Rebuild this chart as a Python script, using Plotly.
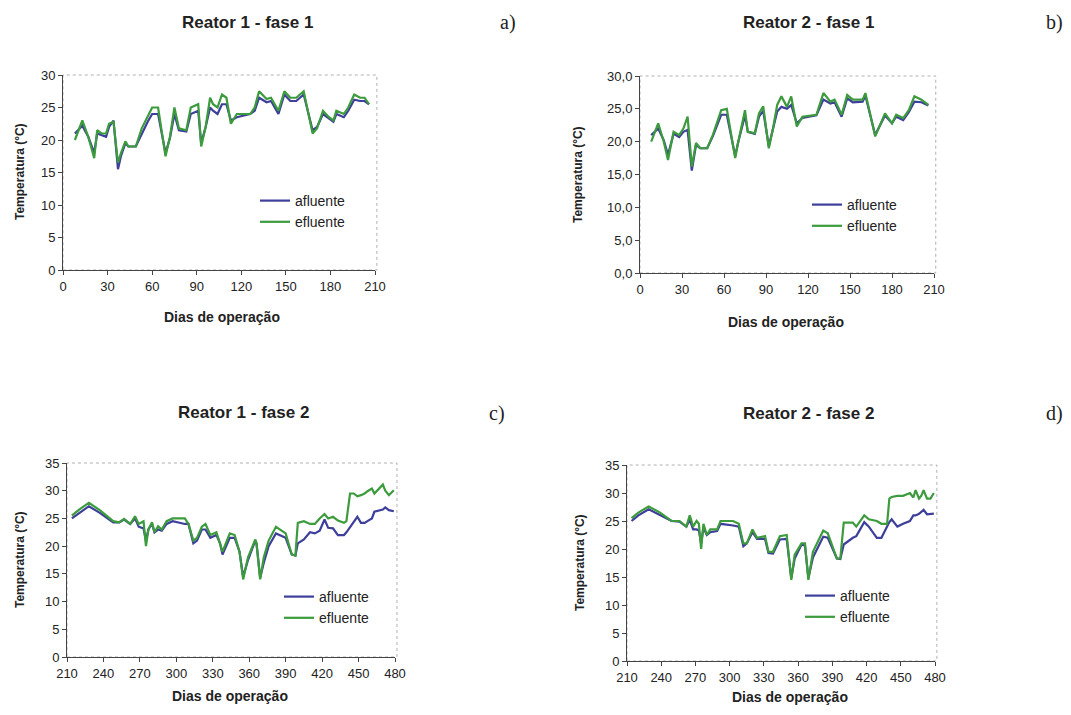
import plotly.graph_objects as go

# ---------------- data ----------------
# Reator 1 - fase 1
days_r1f1 = [8, 13, 17, 21, 23, 26, 29, 31, 34, 37, 39, 42, 44, 49, 53, 57, 60, 64, 69, 72, 75, 78, 83, 86,
             91, 93, 96, 99, 101, 104, 107, 110, 113, 117, 126, 129, 132, 137, 140, 145, 149, 153, 157, 162,
             168, 171, 175, 179, 182, 184, 189, 192, 196, 200, 203, 206]
afl_r1f1 = [21.0, 22.2, 20.5, 18.0, 21.0, 20.8, 20.5, 22.0, 23.0, 15.5, 17.5, 19.5, 19.0, 19.0, 21.0, 22.8,
            24.0, 24.0, 18.0, 20.3, 24.0, 21.5, 21.3, 24.0, 24.5, 19.5, 22.0, 25.0, 24.5, 24.0, 25.5, 25.5,
            23.0, 23.5, 24.0, 24.5, 26.5, 25.8, 26.0, 24.0, 27.0, 26.0, 26.0, 27.0, 21.5, 22.0, 24.0, 23.3,
            22.8, 24.0, 23.5, 24.5, 26.2, 26.0, 26.0, 25.5]
efl_r1f1 = [20.0, 23.0, 20.5, 17.2, 21.5, 21.0, 21.0, 22.5, 22.8, 16.5, 18.0, 19.8, 19.0, 19.0, 21.8, 23.5,
            25.0, 25.0, 17.5, 20.5, 25.0, 21.8, 21.5, 25.0, 25.5, 19.0, 22.0, 26.5, 25.5, 25.0, 27.0, 26.5,
            22.5, 24.0, 24.0, 25.0, 27.5, 26.3, 26.5, 24.5, 27.5, 26.5, 26.5, 27.5, 21.0, 21.8, 24.5, 23.5,
            23.0, 24.5, 24.0, 25.0, 27.0, 26.5, 26.5, 25.5]

# Reator 2 - fase 1
days_r2f1 = [8, 13, 17, 20, 24, 28, 31, 34, 37, 40, 43, 48, 52, 58, 62, 68, 70, 75, 77, 82, 85, 88, 92, 95,
             98, 101, 105, 108, 112, 116, 126, 131, 136, 139, 144, 148, 152, 159, 161, 168, 175, 180, 183,
             188, 192, 196, 201, 206]
afl_r2f1 = [21.0, 22.0, 20.2, 18.0, 21.2, 20.7, 21.5, 21.8, 15.6, 19.5, 19.0, 19.0, 20.8, 24.1, 24.1, 17.8,
            19.8, 24.0, 21.5, 21.2, 23.8, 24.7, 19.3, 22.0, 24.6, 25.3, 25.0, 25.6, 22.8, 23.6, 24.0, 26.4,
            25.8, 26.0, 23.8, 26.6, 26.0, 26.1, 27.0, 21.0, 24.0, 22.8, 23.8, 23.3, 24.5, 26.1, 26.0, 25.5]
efl_r2f1 = [20.0, 22.8, 20.0, 17.2, 21.5, 21.0, 22.0, 23.8, 16.2, 19.8, 19.0, 19.0, 21.0, 24.8, 25.0, 17.5,
            19.8, 24.8, 21.5, 21.3, 24.3, 25.4, 19.0, 22.0, 25.6, 26.9, 25.3, 26.9, 22.3, 23.8, 24.1, 27.4,
            26.1, 26.4, 24.1, 27.1, 26.4, 26.4, 27.4, 20.8, 24.3, 22.8, 24.1, 23.6, 24.8, 26.9, 26.4, 25.6]

# Reator 1 - fase 2
days_r1f2 = [214, 220, 228, 237, 248, 253, 257, 262, 266, 269, 273, 275, 277, 280, 282, 285, 288, 292, 297,
             307, 310, 314, 317, 321, 324, 328, 333, 336, 338, 344, 348, 352, 355, 359, 365, 366, 369, 372,
             376, 382, 390, 395, 398, 400, 405, 410, 414, 418, 422, 425, 429, 433, 438, 440, 443, 446, 449,
             452, 455, 458, 461, 463, 466, 470, 472, 475, 479]
afl_r1f2 = [25.0, 26.0, 27.2, 26.0, 24.3, 24.3, 24.8, 24.0, 25.0, 23.5, 23.2, 21.0, 23.0, 24.0, 22.5, 23.0,
            22.8, 24.0, 24.5, 24.0, 24.0, 20.5, 21.0, 23.0, 23.0, 21.5, 22.0, 20.5, 18.5, 21.5, 21.5, 19.0,
            14.5, 17.5, 21.0, 20.5, 14.3, 17.0, 20.0, 22.3, 21.5, 18.5, 18.3, 20.5, 21.2, 22.5, 22.3, 22.8,
            24.8, 23.3, 23.2, 22.0, 22.0, 22.5, 23.5, 24.5, 25.3, 24.2, 24.2, 24.6, 25.0, 26.2, 26.4, 26.6,
            27.0, 26.5, 26.3]
efl_r1f2 = [25.5, 26.6, 27.8, 26.5, 24.5, 24.3, 24.9, 24.0, 25.4, 24.0, 24.5, 20.0, 23.0, 24.3, 22.5, 23.6,
            23.0, 24.5, 25.0, 25.0, 24.0, 21.0, 21.5, 23.5, 24.0, 22.0, 22.5, 20.5, 19.0, 22.3, 22.0, 19.0,
            14.0, 18.0, 21.2, 20.5, 14.0, 18.0, 21.0, 23.5, 22.3, 18.5, 18.3, 24.2, 24.5, 24.0, 24.0, 25.0,
            25.8, 25.0, 25.3, 24.6, 24.2, 24.5, 29.5, 29.5, 29.0, 29.2, 29.5, 30.0, 30.4, 29.5, 30.2, 31.1,
            30.0, 29.2, 30.1]

# Reator 2 - fase 2
days_r2f2 = [214, 220, 229, 239, 249, 256, 262, 265, 268, 271, 273, 275, 277, 280, 283, 289, 292, 303, 308,
             312, 315, 320, 324, 331, 334, 338, 344, 350, 354, 357, 363, 366, 369, 373, 382, 386, 394, 397,
             400, 408, 411, 418, 422, 429, 433, 438, 440, 442, 447, 452, 458, 461, 463, 466, 468, 470, 473,
             476, 479]
afl_r2f2 = [25.0, 26.0, 27.1, 26.0, 25.0, 24.9, 24.0, 25.2, 23.5, 23.5, 23.3, 21.0, 23.8, 22.5, 23.0, 23.2,
            24.5, 24.2, 24.0, 20.5, 21.0, 23.0, 21.8, 21.8, 19.3, 19.2, 21.7, 21.8, 14.8, 18.3, 20.8, 20.6,
            14.8, 18.5, 22.2, 22.0, 18.3, 18.2, 20.8, 22.0, 22.3, 24.8, 24.0, 22.0, 22.0, 24.0, 24.8, 25.3,
            24.0, 24.5, 25.0, 26.0, 26.0, 26.3, 26.6, 27.0, 26.2, 26.3, 26.3]
efl_r2f2 = [25.5, 26.5, 27.6, 26.5, 25.0, 25.0, 24.0, 26.0, 24.0, 25.0, 24.5, 20.0, 24.5, 22.5, 23.5, 23.5,
            25.0, 25.0, 24.5, 21.0, 21.0, 23.5, 22.0, 22.3, 19.5, 19.5, 22.3, 22.5, 14.5, 19.0, 21.0, 21.0,
            14.5, 19.5, 23.3, 22.8, 18.3, 18.3, 24.7, 24.7, 24.0, 26.0, 25.3, 25.0, 24.5, 24.5, 29.0, 29.3,
            29.5, 29.5, 30.0, 29.2, 30.5, 29.0, 29.5, 30.5, 29.0, 29.0, 30.0]

titles = ["Reator 1 - fase 1", "Reator 2 - fase 1", "Reator 1 - fase 2", "Reator 2 - fase 2"]
letters = ["a)", "b)", "c)", "d)"]
series_names = ["afluente", "efluente"]
yticks_f1 = [0, 5, 10, 15, 20, 25, 30]
yticks_f2 = [0, 5, 10, 15, 20, 25, 30, 35]
xticks_f1 = [0, 30, 60, 90, 120, 150, 180, 210]
xticks_f2 = [210, 240, 270, 300, 330, 360, 390, 420, 450, 480]
ytext_a = ["0", "5", "10", "15", "20", "25", "30"]
ytext_b = ["0,0", "5,0", "10,0", "15,0", "20,0", "25,0", "30,0"]
ytext_cd = ["0", "5", "10", "15", "20", "25", "30", "35"]
xlabel = "Dias de operação"
ylabel = "Temperatura (°C)"

# ---------------- layout helpers ----------------
OFF = 8  # page body margin offset
W, H = 1071 - 2 * OFF, 715 - 2 * OFF  # figure fits the window without scrolling
BLUE = "#3d3f9a"
GREEN = "#3c9b3c"
FONT = "Liberation Sans"


def px(x):
    return (x - OFF) / W


def py(y):
    return 1 - (y - OFF) / H


panels = [
    dict(days=days_r1f1, afl=afl_r1f1, efl=efl_r1f1, xr=[0, 210], yr=[0, 30], xt=xticks_f1, yt=yticks_f1,
         ytt=ytext_a, box=(63, 375, 75, 270), title=(247, 22), letter=(508, 22), xlab=(222, 317),
         ylab=(20, 172), leg=(255, 185)),
    dict(days=days_r2f1, afl=afl_r2f1, efl=efl_r2f1, xr=[0, 210], yr=[0, 30], xt=xticks_f1, yt=yticks_f1,
         ytt=ytext_b, box=(640, 934, 76, 273), title=(808, 22), letter=(1054, 22), xlab=(786, 322),
         ylab=(578, 175), leg=(807, 189)),
    dict(days=days_r1f2, afl=afl_r1f2, efl=efl_r1f2, xr=[210, 480], yr=[0, 35], xt=xticks_f2, yt=yticks_f2,
         ytt=ytext_cd, box=(67, 395, 463, 657), title=(243, 412), letter=(497, 413), xlab=(230, 696),
         ylab=(20, 560), leg=(279, 581)),
    dict(days=days_r2f2, afl=afl_r2f2, efl=efl_r2f2, xr=[210, 480], yr=[0, 35], xt=xticks_f2, yt=yticks_f2,
         ytt=ytext_cd, box=(627, 935, 465, 661), title=(808, 413), letter=(1054, 413), xlab=(790, 697),
         ylab=(580, 563), leg=(800, 580)),
]

fig = go.Figure()
annotations = []
shapes = []
layout_extra = {}

for i, p in enumerate(panels):
    n = "" if i == 0 else str(i + 1)
    xa, ya = "x" + n, "y" + n
    leg = "legend" + n
    fig.add_trace(go.Scatter(x=p["days"], y=p["afl"], mode="lines", name=series_names[0],
                             line=dict(color=BLUE, width=2.2), xaxis=xa, yaxis=ya, legend=leg))
    fig.add_trace(go.Scatter(x=p["days"], y=p["efl"], mode="lines", name=series_names[1],
                             line=dict(color=GREEN, width=2.2), xaxis=xa, yaxis=ya, legend=leg))
    x0, x1, y0, y1 = p["box"]
    layout_extra["xaxis" + n] = dict(
        domain=[px(x0), px(x1)], range=p["xr"], anchor=ya, tickvals=p["xt"], automargin=False,
        showline=True, linecolor="#444", linewidth=1, ticks="outside", ticklen=4, tickcolor="#444",
        showgrid=False, zeroline=False, tickfont=dict(family=FONT, size=13, color="#222"))
    layout_extra["yaxis" + n] = dict(
        domain=[py(y1), py(y0)], range=p["yr"], anchor=xa, tickvals=p["yt"], ticktext=p["ytt"],
        automargin=False,
        showline=True, linecolor="#444", linewidth=1, ticks="outside", ticklen=4, tickcolor="#444",
        showgrid=False, zeroline=False, tickfont=dict(family=FONT, size=13, color="#222"))
    layout_extra[leg] = dict(
        x=px(p["leg"][0]), y=py(p["leg"][1]), xanchor="left", yanchor="top",
        bgcolor="rgba(255,255,255,0.9)", borderwidth=0,
        font=dict(family=FONT, size=14, color="#222"), tracegroupgap=0)
    # dotted frame (top/right)
    shapes.append(dict(type="rect", xref=xa + " domain", yref=ya + " domain", x0=0, x1=1.006, y0=0, y1=1,
                       line=dict(color="#b0b0b0", width=1, dash="dot"), layer="below"))
    annotations.append(dict(text="<b>" + titles[i] + "</b>", x=px(p["title"][0]), y=py(p["title"][1]),
                            xref="paper", yref="paper", showarrow=False, xanchor="center", yanchor="middle",
                            font=dict(family=FONT, size=17, color="#222")))
    annotations.append(dict(text=letters[i], x=px(p["letter"][0]), y=py(p["letter"][1]),
                            xref="paper", yref="paper", showarrow=False, xanchor="center", yanchor="middle",
                            font=dict(family="Liberation Serif", size=20, color="#222")))
    annotations.append(dict(text="<b>" + xlabel + "</b>", x=px(p["xlab"][0]), y=py(p["xlab"][1]),
                            xref="paper", yref="paper", showarrow=False, xanchor="center", yanchor="middle",
                            font=dict(family=FONT, size=14, color="#222")))
    annotations.append(dict(text="<b>" + ylabel + "</b>", x=px(p["ylab"][0]), y=py(p["ylab"][1]),
                            xref="paper", yref="paper", showarrow=False, xanchor="center", yanchor="middle",
                            textangle=-90, font=dict(family=FONT, size=12, color="#222")))

fig.update_layout(
    width=W, height=H, margin=dict(l=0, r=0, t=0, b=0, autoexpand=False),
    paper_bgcolor="white", plot_bgcolor="white",
    annotations=annotations, shapes=shapes, **layout_extra)

fig.write_html("out.html")
